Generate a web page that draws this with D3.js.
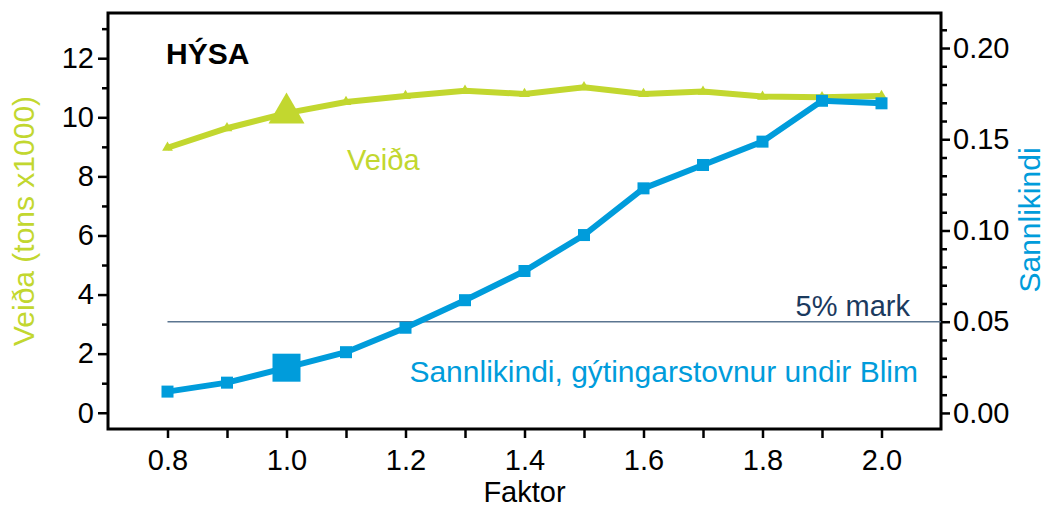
<!DOCTYPE html>
<html>
<head>
<meta charset="utf-8">
<script src="https://cdn.jsdelivr.net/npm/d3@7"></script>
<style>
  html, body { margin: 0; padding: 0; background: #fff; }
  svg { display: block; font-family: "Liberation Sans", Arial, sans-serif; }
</style>
</head>
<body>
<svg id="chart" width="1047" height="509"></svg>
<script>
// data
const faktor = [0.8, 0.9, 1.0, 1.1, 1.2, 1.3, 1.4, 1.5, 1.6, 1.7, 1.8, 1.9, 2.0]
const veida = [8.97, 9.63, 10.14, 10.52, 10.72, 10.9, 10.79, 11.02, 10.79, 10.87, 10.7, 10.68, 10.72]
const sannlikindi = [0.0117, 0.0166, 0.0248, 0.0333, 0.0467, 0.0618, 0.0778, 0.0975, 0.1231, 0.1359, 0.1487, 0.1711, 0.1697]
const leftTicks = [0, 2, 4, 6, 8, 10, 12]
const leftMinor = [1, 3, 5, 7, 9, 11, 13]
const rightTicks = [0, 0.05, 0.1, 0.15, 0.2]
const rightMinor = [0.01, 0.02, 0.03, 0.04, 0.06, 0.07, 0.08, 0.09, 0.11, 0.12, 0.13, 0.14, 0.16, 0.17, 0.18, 0.19, 0.21]
const xTicks = [0.8, 1.0, 1.2, 1.4, 1.6, 1.8, 2.0]
const xMinor = [0.9, 1.1, 1.3, 1.5, 1.7, 1.9]
const markLevel = 0.05
const highlight = 1.0

const green = '#c2d72f'
const blue = '#009cdb'

const plot = {left: 108, right: 941, top: 13, bottom: 429}

const svg = d3.select('#chart')

const x = d3.scaleLinear().domain([0.7, 2.1]).range([plot.left, plot.right])
const yL = d3.scaleLinear().domain([-0.55, 13.53]).range([plot.bottom, plot.top])
const yR = d3.scaleLinear().domain([-0.0088, 0.2192]).range([plot.bottom, plot.top])

// axes
const axisStyle = g => {
	g.select('.domain').remove()
	g.selectAll('line').attr('stroke', '#000').attr('stroke-width', 2.5)
	g.selectAll('text').attr('fill', '#000').style('font-size', '29px').style('font-family', '"Liberation Sans", Arial, sans-serif')
}

svg.append('g').attr('transform', `translate(${plot.left - 1},0)`)
	.call(d3.axisLeft(yL).tickValues(leftMinor).tickSize(5).tickFormat(''))
	.call(axisStyle)
svg.append('g').attr('transform', `translate(${plot.left - 1},0)`)
	.call(d3.axisLeft(yL).tickValues(leftTicks).tickSize(9).tickPadding(4).tickFormat(d3.format('d')))
	.call(axisStyle)

svg.append('g').attr('transform', `translate(${plot.right + 1},0)`)
	.call(d3.axisRight(yR).tickValues(rightMinor).tickSize(5).tickFormat(''))
	.call(axisStyle)
svg.append('g').attr('transform', `translate(${plot.right + 1},0)`)
	.call(d3.axisRight(yR).tickValues(rightTicks).tickSize(8).tickPadding(3).tickFormat(d3.format('.2f')))
	.call(axisStyle)

svg.append('g').attr('transform', `translate(0,${plot.bottom + 1})`)
	.call(d3.axisBottom(x).tickValues(xMinor).tickSize(8).tickFormat(''))
	.call(axisStyle)
svg.append('g').attr('transform', `translate(0,${plot.bottom + 1})`)
	.call(d3.axisBottom(x).tickValues(xTicks).tickSize(8).tickPadding(11).tickFormat(d3.format('.1f')))
	.call(axisStyle)

// frame
svg.append('rect')
	.attr('x', plot.left).attr('y', plot.top)
	.attr('width', plot.right - plot.left).attr('height', plot.bottom - plot.top)
	.attr('fill', 'none').attr('stroke', '#000').attr('stroke-width', 3)

// 5% line
svg.append('line')
	.attr('x1', x(0.8)).attr('x2', plot.right)
	.attr('y1', yR(markLevel)).attr('y2', yR(markLevel))
	.attr('stroke', '#5b7590').attr('stroke-width', 1.5)

// Veiða series
const veidaPts = faktor.map((f, i) => [f, veida[i]])
svg.append('path')
	.datum(veidaPts)
	.attr('fill', 'none').attr('stroke', green).attr('stroke-width', 6)
	.attr('d', d3.line().x(d => x(d[0])).y(d => yL(d[1])))
svg.append('g').selectAll('path')
	.data(veidaPts)
	.join('path')
	.attr('transform', d => `translate(${x(d[0])},${yL(d[1])})`)
	.attr('fill', green)
	.attr('d', d => d3.symbol(d3.symbolTriangle, d[0] === highlight ? 560 : 50)())

// Sannlikindi series
const sannPts = faktor.map((f, i) => [f, sannlikindi[i]])
svg.append('path')
	.datum(sannPts)
	.attr('fill', 'none').attr('stroke', blue).attr('stroke-width', 6)
	.attr('d', d3.line().x(d => x(d[0])).y(d => yR(d[1])))
svg.append('g').selectAll('rect')
	.data(sannPts)
	.join('rect')
	.each(function (d) {
		const s = d[0] === highlight ? 28 : 12
		d3.select(this)
			.attr('x', x(d[0]) - s / 2).attr('y', yR(d[1]) - s / 2)
			.attr('width', s).attr('height', s)
	})
	.attr('fill', blue)

// texts
svg.append('text').attr('x', 166).attr('y', 64)
	.style('font-size', '30px').style('font-weight', 'bold').attr('fill', '#000')
	.text('HÝSA')
svg.append('text').attr('x', 347).attr('y', 170)
	.style('font-size', '29px').attr('fill', green)
	.text('Veiða')
svg.append('text').attr('x', 910).attr('y', 316).attr('text-anchor', 'end')
	.style('font-size', '29px').attr('fill', '#1b3a5e')
	.text('5% mark')
svg.append('text').attr('x', 918).attr('y', 382).attr('text-anchor', 'end')
	.style('font-size', '30px').attr('fill', blue)
	.text('Sannlikindi, gýtingarstovnur undir Blim')
svg.append('text').attr('x', (plot.left + plot.right) / 2).attr('y', 502).attr('text-anchor', 'middle')
	.style('font-size', '29px').attr('fill', '#000')
	.text('Faktor')
svg.append('text')
	.attr('transform', 'translate(34,221) rotate(-90)').attr('text-anchor', 'middle')
	.style('font-size', '30px').attr('fill', green)
	.text('Veiða (tons x1000)')
svg.append('text')
	.attr('transform', 'translate(1040,220) rotate(-90)').attr('text-anchor', 'middle')
	.style('font-size', '30px').attr('fill', blue)
	.text('Sannlikindi')
</script>
</body>
</html>
